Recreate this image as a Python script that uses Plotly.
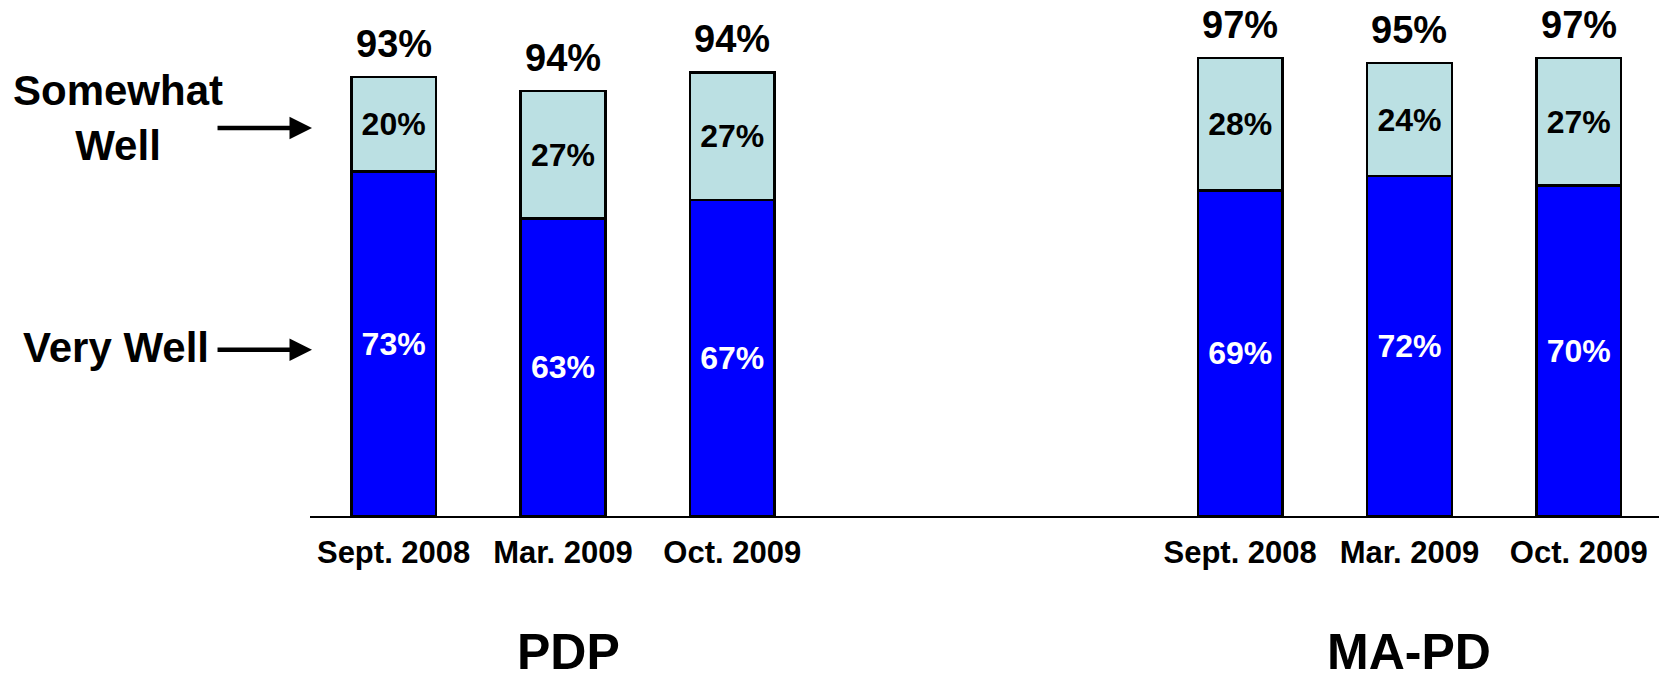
import plotly.graph_objects as go

groups = ["PDP", "MA-PD"]
periods = ["Sept. 2008", "Mar. 2009", "Oct. 2009"]
very_well = {"PDP": [73, 63, 67], "MA-PD": [69, 72, 70]}
somewhat_well = {"PDP": [20, 27, 27], "MA-PD": [28, 24, 27]}
total_labels = {"PDP": ["93%", "94%", "94%"], "MA-PD": ["97%", "95%", "97%"]}

FONT = "Liberation Sans, Arial, sans-serif"
DARK = "#0000FF"
LIGHT = "#BBE0E3"
GAP = 2  # empty slots between groups
TITLE_XSHIFT = [6, 0]

xs, vw, sw, tot, ticks = [], [], [], [], []
for g_i, g in enumerate(groups):
    for i, p in enumerate(periods):
        xs.append(g_i * (len(periods) + GAP) + i)
        vw.append(very_well[g][i])
        sw.append(somewhat_well[g][i])
        tot.append(total_labels[g][i])
        ticks.append(p)

fig = go.Figure()
fig.add_bar(x=xs, y=vw, width=0.5, marker=dict(color=DARK, line=dict(color="black", width=2.5)),
            text=[f"{v}%" for v in vw], textposition="inside", insidetextanchor="middle",
            textangle=0, textfont=dict(family=FONT, size=32, color="white", weight="bold"),
            hoverinfo="skip", name="Very Well")
fig.add_bar(x=xs, y=sw, width=0.5, marker=dict(color=LIGHT, line=dict(color="black", width=2.5)),
            text=[f"{v}%" for v in sw], textposition="inside", insidetextanchor="middle",
            textangle=0, textfont=dict(family=FONT, size=32, color="black", weight="bold"),
            hoverinfo="skip", name="Somewhat Well")

annotations = []
for x, a, b, t in zip(xs, vw, sw, tot):
    annotations.append(dict(x=x, y=a + b, xref="x", yref="y", text=t, showarrow=False,
                            yanchor="middle", yshift=33,
                            font=dict(family=FONT, size=38, color="black", weight="bold")))

for g_i, g in enumerate(groups):
    center = g_i * (len(periods) + GAP) + 1
    annotations.append(dict(x=center, y=-0.2881, xref="x", yref="paper", text=g, showarrow=False,
                            yanchor="middle", xanchor="center", borderpad=0,
                            xshift=TITLE_XSHIFT[g_i],
                            font=dict(family=FONT, size=50, color="black", weight="bold")))

annotations.append(dict(x=-0.142, y=0.844, xref="paper", yref="paper", text="Somewhat<br>Well",
                        showarrow=False, align="center", xanchor="center", yanchor="middle",
                        font=dict(family=FONT, size=42, color="black", weight="bold")))
annotations.append(dict(x=-0.1438, y=0.356, xref="paper", yref="paper", text="Very Well",
                        showarrow=False, align="center", xanchor="center", yanchor="middle",
                        font=dict(family=FONT, size=42, color="black", weight="bold")))
for yy in [0.822, 0.352]:
    annotations.append(dict(x=0.0015, y=yy, xref="paper", yref="paper", text="", showarrow=True,
                            ax=-96, ay=0, axref="pixel", ayref="pixel",
                            arrowhead=2, arrowsize=1, arrowwidth=4.5, arrowcolor="black"))

fig.update_layout(
    barmode="stack",
    width=1659, height=684,
    margin=dict(l=310, r=0, t=44, b=168),
    paper_bgcolor="white", plot_bgcolor="white",
    showlegend=False,
    annotations=annotations,
    xaxis=dict(range=[-0.494, 7.474], tickvals=xs, ticktext=ticks, showline=True,
               linecolor="black", linewidth=2, ticks="", showgrid=False, zeroline=False,
               ticklabelstandoff=8,
               tickfont=dict(family=FONT, size=31, color="black", weight="bold")),
    yaxis=dict(range=[0, 100], visible=False, showgrid=False, zeroline=False),
)

fig.write_html("out.html", config={"displayModeBar": False},
               post_script="document.body.style.margin='0';document.body.style.overflow='hidden';")
